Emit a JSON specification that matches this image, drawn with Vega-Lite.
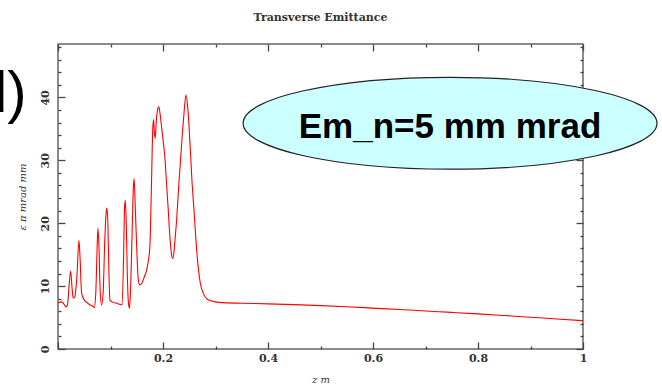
{
  "$schema": "https://vega.github.io/schema/vega-lite/v6.json",
  "autosize": {"type": "none"},
  "padding": {"left": 58, "top": 44, "right": 79, "bottom": 41},
  "width": 525,
  "height": 305,
  "background": "white",
  "config": {
    "view": {"stroke": "#666", "strokeWidth": 1.5},
    "axis": {"grid": false, "domain": false, "tickColor": "#444", "tickWidth": 1.3,
      "labelFont": "DejaVu Serif", "labelFontSize": 11, "labelFontWeight": "bold", "labelColor": "#333",
      "titleFont": "DejaVu Serif", "titleFontSize": 10, "titleFontWeight": "normal", "titleFontStyle": "italic", "titleColor": "#333"}
  },
  "title": {"text": "Transverse Emittance", "font": "DejaVu Serif", "fontSize": 11, "fontWeight": "bold", "color": "#333", "offset": 20, "anchor": "middle"},
  "datasets": {
    "curve": [
      {"z": 0.000, "e": 7.3}, {"z": 0.006, "e": 7.5}, {"z": 0.010, "e": 7.3}, {"z": 0.015, "e": 6.7},
      {"z": 0.018, "e": 7.0}, {"z": 0.021, "e": 10.0}, {"z": 0.024, "e": 12.4}, {"z": 0.027, "e": 9.5},
      {"z": 0.029, "e": 8.1}, {"z": 0.032, "e": 8.3}, {"z": 0.036, "e": 11.5}, {"z": 0.040, "e": 17.3},
      {"z": 0.042, "e": 14.5}, {"z": 0.045, "e": 8.9}, {"z": 0.050, "e": 7.8}, {"z": 0.055, "e": 7.4},
      {"z": 0.061, "e": 7.0}, {"z": 0.066, "e": 6.8}, {"z": 0.069, "e": 6.6}, {"z": 0.072, "e": 9.0},
      {"z": 0.0745, "e": 16.0}, {"z": 0.076, "e": 19.2}, {"z": 0.078, "e": 16.5}, {"z": 0.080, "e": 10.0},
      {"z": 0.083, "e": 7.0}, {"z": 0.086, "e": 9.0}, {"z": 0.089, "e": 17.0}, {"z": 0.0915, "e": 21.5},
      {"z": 0.093, "e": 22.4}, {"z": 0.095, "e": 20.0}, {"z": 0.097, "e": 12.0}, {"z": 0.099, "e": 7.8},
      {"z": 0.103, "e": 7.5}, {"z": 0.110, "e": 7.3}, {"z": 0.118, "e": 7.1}, {"z": 0.122, "e": 7.0},
      {"z": 0.125, "e": 15.0}, {"z": 0.1265, "e": 22.0}, {"z": 0.128, "e": 23.7}, {"z": 0.130, "e": 20.0},
      {"z": 0.132, "e": 12.0}, {"z": 0.134, "e": 7.5}, {"z": 0.136, "e": 6.5}, {"z": 0.138, "e": 9.0},
      {"z": 0.141, "e": 18.0}, {"z": 0.1435, "e": 25.5}, {"z": 0.145, "e": 27.1}, {"z": 0.147, "e": 23.0},
      {"z": 0.150, "e": 16.0}, {"z": 0.153, "e": 11.0}, {"z": 0.156, "e": 10.2}, {"z": 0.160, "e": 10.5},
      {"z": 0.165, "e": 11.6}, {"z": 0.169, "e": 12.6}, {"z": 0.172, "e": 14.0}, {"z": 0.175, "e": 16.3},
      {"z": 0.178, "e": 26.0}, {"z": 0.1805, "e": 35.0}, {"z": 0.182, "e": 36.5}, {"z": 0.1835, "e": 34.5},
      {"z": 0.185, "e": 33.5}, {"z": 0.187, "e": 36.0}, {"z": 0.1895, "e": 38.0}, {"z": 0.192, "e": 38.5},
      {"z": 0.195, "e": 37.0}, {"z": 0.199, "e": 34.0}, {"z": 0.204, "e": 30.0}, {"z": 0.207, "e": 26.0},
      {"z": 0.210, "e": 22.1}, {"z": 0.213, "e": 18.0}, {"z": 0.216, "e": 15.2}, {"z": 0.2184, "e": 14.4},
      {"z": 0.221, "e": 15.5}, {"z": 0.223, "e": 17.5}, {"z": 0.226, "e": 20.5}, {"z": 0.230, "e": 26.0},
      {"z": 0.2356, "e": 32.7}, {"z": 0.240, "e": 37.5}, {"z": 0.2438, "e": 40.4}, {"z": 0.247, "e": 38.5},
      {"z": 0.2514, "e": 32.7}, {"z": 0.255, "e": 27.0}, {"z": 0.259, "e": 22.1}, {"z": 0.263, "e": 17.0},
      {"z": 0.267, "e": 13.1}, {"z": 0.271, "e": 10.5}, {"z": 0.2768, "e": 8.85}, {"z": 0.283, "e": 8.0},
      {"z": 0.2895, "e": 7.7}, {"z": 0.300, "e": 7.5}, {"z": 0.315, "e": 7.37}, {"z": 0.35, "e": 7.28},
      {"z": 0.40, "e": 7.18}, {"z": 0.45, "e": 7.05}, {"z": 0.50, "e": 6.90}, {"z": 0.55, "e": 6.72},
      {"z": 0.60, "e": 6.50}, {"z": 0.65, "e": 6.28}, {"z": 0.70, "e": 6.05}, {"z": 0.75, "e": 5.82},
      {"z": 0.80, "e": 5.58}, {"z": 0.85, "e": 5.32}, {"z": 0.90, "e": 5.05}, {"z": 0.95, "e": 4.78},
      {"z": 1.00, "e": 4.5}
    ],
    "ellipse": [{"z": 0.7467, "e": 35.9}],
    "label": [{"z": 0.7467, "e": 33.55, "text": "Em_n=5 mm mrad"}],
    "panel": [{"z": -0.0600, "e": 37.7, "text": "d)"}]
  },
  "resolve": {"axis": {"x": "independent", "y": "independent"}},
  "layer": [
    {
      "data": {"name": "curve"},
      "mark": {"type": "line", "color": "#ff0000", "strokeWidth": 1.1, "interpolate": "monotone", "clip": true},
      "encoding": {
        "x": {"field": "z", "type": "quantitative",
          "scale": {"domain": [0, 1], "nice": false, "zero": false},
          "axis": {"orient": "bottom", "title": "z m", "titlePadding": 11,
            "values": [0, 0.2, 0.4, 0.6, 0.8, 1],
            "labelExpr": "datum.value === 0 ? '' : (datum.value === 1 ? '1' : datum.label)",
            "tickSize": -7, "labelPadding": 10, "labelFlush": false}},
        "y": {"field": "e", "type": "quantitative",
          "scale": {"domain": [0, 48.5], "nice": false},
          "axis": {"orient": "left", "title": "ε π mrad mm", "titlePadding": 12,
            "values": [0, 10, 20, 30, 40],
            "tickSize": -7,
            "labelAngle": -90, "labelAlign": "center", "labelBaseline": "bottom", "labelPadding": 15, "labelFlush": false}}
      }
    },
    {
      "data": {"name": "curve"},
      "mark": {"type": "line", "opacity": 0, "clip": true},
      "encoding": {
        "x": {"field": "z", "type": "quantitative",
          "axis": {"orient": "bottom", "title": null, "labels": false,
            "values": [0.1, 0.3, 0.5, 0.7, 0.9], "tickSize": -3}},
        "y": {"field": "e", "type": "quantitative",
          "axis": {"orient": "left", "title": null, "labels": false,
            "values": [2, 4, 6, 8, 12, 14, 16, 18, 22, 24, 26, 28, 32, 34, 36, 38, 42, 44, 46, 48], "tickSize": -3}}
      }
    },
    {
      "data": {"name": "curve"},
      "mark": {"type": "line", "opacity": 0, "clip": true},
      "encoding": {
        "x": {"field": "z", "type": "quantitative",
          "axis": {"orient": "top", "title": null, "labels": false,
            "values": [0.1, 0.3, 0.5, 0.7, 0.9], "tickSize": -3}},
        "y": {"field": "e", "type": "quantitative",
          "axis": {"orient": "right", "title": null, "labels": false,
            "values": [2, 4, 6, 8, 12, 14, 16, 18, 22, 24, 26, 28, 32, 34, 36, 38, 42, 44, 46, 48], "tickSize": -3}}
      }
    },
    {
      "data": {"name": "ellipse"},
      "mark": {"type": "point", "shape": "M-1,0A1,0.222,0,1,0,1,0A1,0.222,0,1,0,-1,0Z", "size": 171396,
        "filled": true, "fill": "#ccffff", "stroke": "#222", "strokeWidth": 1.2, "opacity": 1, "clip": false},
      "encoding": {
        "x": {"field": "z", "type": "quantitative",
          "axis": {"orient": "top", "title": null, "labels": false,
            "values": [0, 0.2, 0.4, 0.6, 0.8, 1], "tickSize": -7}},
        "y": {"field": "e", "type": "quantitative",
          "axis": {"orient": "right", "title": null, "labels": false,
            "values": [0, 10, 20, 30, 40], "tickSize": -7}}
      }
    },
    {
      "data": {"name": "label"},
      "mark": {"type": "text", "font": "Liberation Sans", "fontSize": 35, "fontWeight": "bold", "color": "#000",
        "align": "center", "baseline": "alphabetic", "clip": false},
      "encoding": {
        "x": {"field": "z", "type": "quantitative", "axis": null},
        "y": {"field": "e", "type": "quantitative", "axis": null},
        "text": {"field": "text"}
      }
    },
    {
      "data": {"name": "panel"},
      "mark": {"type": "text", "font": "Liberation Sans", "fontSize": 58, "color": "#000",
        "align": "right", "baseline": "alphabetic", "clip": false},
      "encoding": {
        "x": {"field": "z", "type": "quantitative", "axis": null},
        "y": {"field": "e", "type": "quantitative", "axis": null},
        "text": {"field": "text"}
      }
    }
  ]
}
